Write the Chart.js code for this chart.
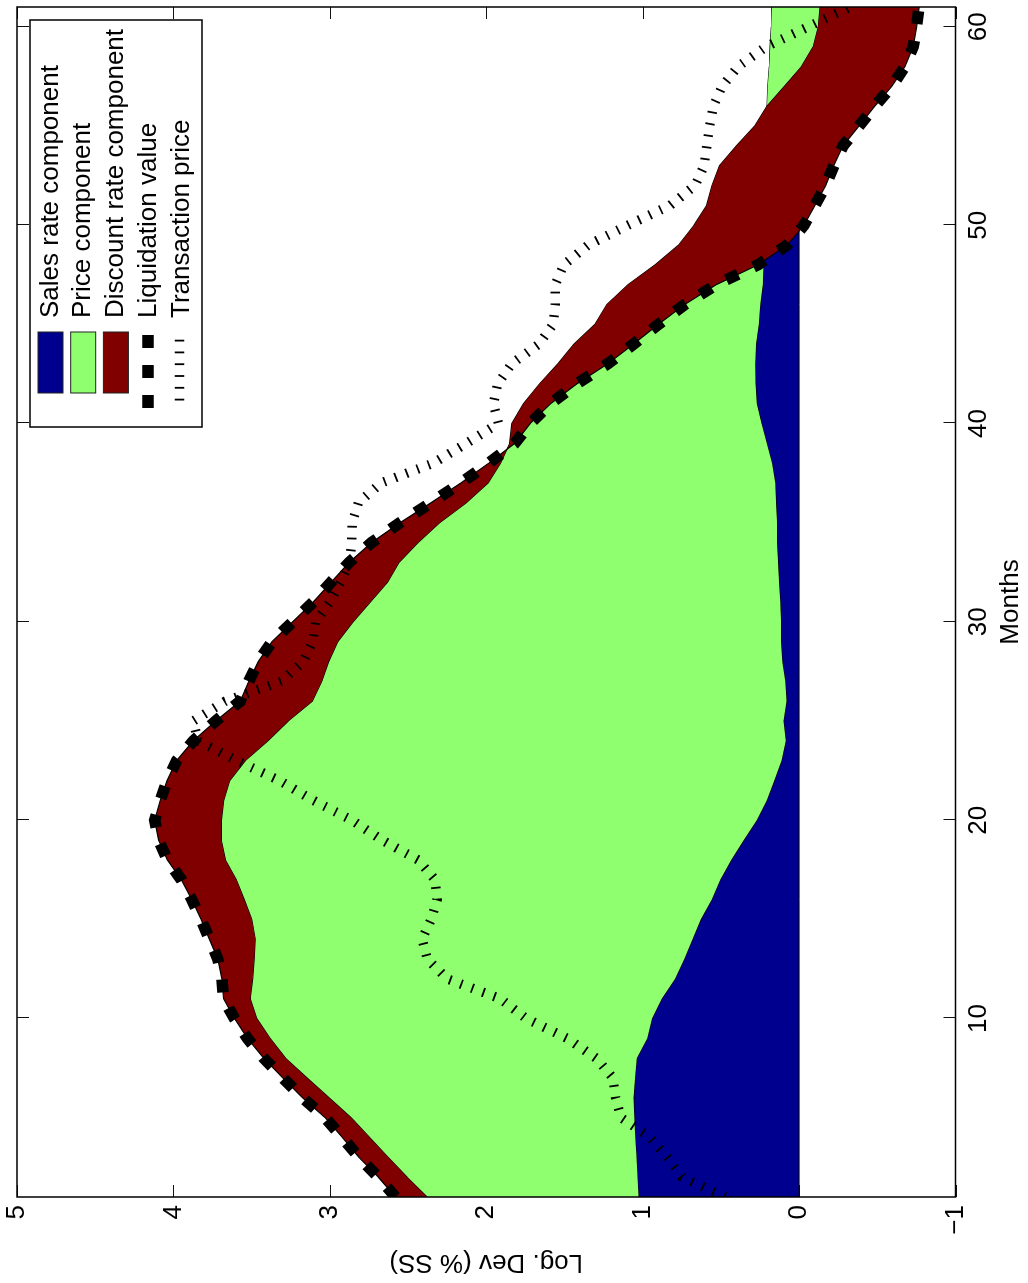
<!DOCTYPE html>
<html>
<head>
<meta charset="utf-8">
<script src="https://cdn.jsdelivr.net/npm/chart.js@4.4.1/dist/chart.umd.min.js"></script>
<style>
  html, body { margin: 0; padding: 0; background: #fff; overflow: hidden; }
  /* the figure is laid out landscape and turned a quarter turn counter-clockwise */
  #wrap {
    position: absolute; left: 0; top: 0;
    width: 1283px; height: 1028px;
    transform-origin: 0 0;
    transform: translate(0, 1283px) rotate(-90deg);
    background: #fff;
  }
</style>
</head>
<body>
<div id="wrap"><canvas id="c" width="1283" height="1028"></canvas></div>
<script>
// ---- data ----------------------------------------------------------------
const months = [1, 2, 3, 4, 5, 6, 7, 8, 9, 10, 11, 12, 13, 14, 15, 16, 17, 18, 19, 20,
  21, 22, 23, 24, 25, 26, 27, 28, 29, 30, 31, 32, 33, 34, 35, 36, 37, 38, 39, 40,
  41, 42, 43, 44, 45, 46, 47, 48, 49, 50, 51, 52, 53, 54, 55, 56, 57, 58, 59, 60, 61];
const monthTicks = [10, 20, 30, 40, 50, 60];
const valueTicks = [-1, 0, 1, 2, 3, 4, 5];

// stacked levels: sales rate component, then + price component, then + discount rate component
const salesRateLevel = [1.027, 1.033, 1.040, 1.048, 1.054, 1.058, 1.049, 1.038, 0.971, 0.941,
  0.878, 0.794, 0.734, 0.681, 0.628, 0.559, 0.504, 0.433, 0.353, 0.270,
  0.207, 0.158, 0.113, 0.085, 0.100, 0.080, 0.089, 0.108, 0.115, 0.115,
  0.121, 0.128, 0.134, 0.141, 0.141, 0.147, 0.153, 0.173, 0.207, 0.240,
  0.270, 0.278, 0.281, 0.275, 0.258, 0.249, 0.232, 0.228, 0.220, 0.215,
  0.210, 0.205, 0.200, 0.195, 0.190, 0.205, 0.200, 0.190, 0.185, 0.178, 0.175];
const priceLevel = [2.379, 2.507, 2.627, 2.746, 2.864, 3.005, 3.146, 3.284, 3.383, 3.468,
  3.509, 3.494, 3.484, 3.477, 3.499, 3.548, 3.598, 3.668, 3.694, 3.694,
  3.679, 3.640, 3.541, 3.397, 3.266, 3.112, 3.052, 3.008, 2.949, 2.852,
  2.741, 2.631, 2.558, 2.436, 2.298, 2.128, 1.989, 1.909, 1.850, 1.836,
  1.762, 1.659, 1.543, 1.439, 1.305, 1.229, 1.093, 0.920, 0.770, 0.671,
  0.591, 0.557, 0.508, 0.400, 0.284, 0.205, 0.093, -0.016, -0.091, -0.123, -0.134];
const liquidationValue = [2.580, 2.690, 2.814, 2.920, 3.030, 3.174, 3.300, 3.423, 3.527, 3.610,
  3.680, 3.690, 3.716, 3.770, 3.824, 3.883, 3.950, 4.040, 4.095, 4.120,
  4.084, 4.040, 3.980, 3.873, 3.730, 3.573, 3.518, 3.457, 3.370, 3.238,
  3.106, 2.992, 2.876, 2.733, 2.551, 2.354, 2.162, 1.984, 1.818, 1.719,
  1.589, 1.421, 1.225, 1.059, 0.899, 0.731, 0.530, 0.263, 0.076, -0.032,
  -0.102, -0.170, -0.222, -0.281, -0.383, -0.484, -0.593, -0.677, -0.730, -0.751, -0.767];
const transactionPrice = [0.473, 0.748, 0.844, 0.952, 1.138, 1.173, 1.190, 1.297, 1.483, 1.745,
  1.911, 2.250, 2.377, 2.410, 2.352, 2.314, 2.327, 2.436, 2.667, 2.859,
  3.106, 3.323, 3.595, 3.842, 3.873, 3.668, 3.310, 3.170, 3.109, 3.090,
  3.000, 2.930, 2.874, 2.860, 2.857, 2.818, 2.672, 2.339, 2.127, 1.922,
  1.954, 1.927, 1.839, 1.664, 1.572, 1.559, 1.559, 1.505, 1.348, 1.094,
  0.824, 0.665, 0.607, 0.590, 0.572, 0.548, 0.492, 0.390, 0.211, -0.058, -0.326];

// ---- styling ---------------------------------------------------------------
const FONT = '"Liberation Sans", Arial, Helvetica, sans-serif';
const FONT_SIZE = 26;
const BLUE = 'rgb(0, 0, 143)';
const GREEN = 'rgb(143, 255, 112)';
const RED = 'rgb(128, 0, 0)';

Chart.defaults.font.family = FONT;
Chart.defaults.font.size = FONT_SIZE;
Chart.defaults.color = '#000';

const pts = arr => months.map((m, i) => ({ x: m, y: arr[i] }));

// inward tick marks on all four sides (under the areas), zero baseline of the
// first area, and the axes box (over the areas)
const axesBox = {
  id: 'axesBox',
  beforeDatasetsDraw(chart) {
    const { ctx, chartArea: a, scales: { x, y } } = chart;
    ctx.save();
    ctx.strokeStyle = '#111';
    ctx.lineWidth = 1;
    ctx.beginPath();
    x.ticks.forEach(t => {
      const px = Math.round(x.getPixelForValue(t.value)) + 0.5;
      ctx.moveTo(px, a.bottom); ctx.lineTo(px, a.bottom - 12);
      ctx.moveTo(px, a.top); ctx.lineTo(px, a.top + 12);
    });
    y.ticks.forEach(t => {
      const py = Math.round(y.getPixelForValue(t.value)) + 0.5;
      ctx.moveTo(a.left, py); ctx.lineTo(a.left + 12, py);
      ctx.moveTo(a.right, py); ctx.lineTo(a.right - 12, py);
    });
    ctx.stroke();
    ctx.restore();
  },
  afterDatasetDraw(chart, args) {
    if (args.index !== 0) return;
    const { ctx, scales: { x, y } } = chart;
    const py = y.getPixelForValue(0);
    ctx.save();
    ctx.strokeStyle = '#000';
    ctx.lineWidth = 1;
    ctx.beginPath();
    ctx.moveTo(x.getPixelForValue(months[0]), py);
    ctx.lineTo(x.getPixelForValue(months[months.length - 1]), py);
    ctx.stroke();
    ctx.restore();
  },
  afterDatasetsDraw(chart) {
    const { ctx, chartArea: a } = chart;
    ctx.save();
    ctx.strokeStyle = '#000';
    ctx.lineWidth = 1.5;
    ctx.strokeRect(a.left, a.top, a.right - a.left, a.bottom - a.top);
    ctx.restore();
  }
};

// boxed legend in the upper right corner of the plot
const boxedLegend = {
  id: 'boxedLegend',
  afterDraw(chart) {
    const { ctx, chartArea: a } = chart;
    const w = 407, h = 172;
    const x0 = a.right - 13 - w, y0 = a.top + 13;
    ctx.save();
    ctx.fillStyle = '#fff';
    ctx.fillRect(x0, y0, w, h);
    ctx.strokeStyle = '#000';
    ctx.lineWidth = 1.5;
    ctx.strokeRect(x0, y0, w, h);

    ctx.font = FONT_SIZE + 'px ' + FONT;
    ctx.textBaseline = 'alphabetic';
    ctx.textAlign = 'left';
    chart.data.datasets.forEach((ds, i) => {
      const base = y0 + 27.7 + 32.7 * i;
      if (ds.fill) {
        ctx.fillStyle = ds.backgroundColor;
        ctx.fillRect(x0 + 34, base - 19.7, 61, 25);
        ctx.lineWidth = 1;
        ctx.strokeStyle = '#222';
        ctx.strokeRect(x0 + 34, base - 19.7, 61, 25);
      } else {
        const thick = ds.borderWidth > 10;
        const ly = thick ? base - 7.8 : base - 8.9;
        ctx.strokeStyle = ds.borderColor;
        ctx.lineWidth = ds.borderWidth;
        ctx.lineCap = 'butt';
        ctx.setLineDash(ds.borderDash || []);
        ctx.beginPath();
        if (thick) { ctx.moveTo(x0 + 19, ly); ctx.lineTo(x0 + 92, ly); }
        else { ctx.moveTo(x0 + 26.5, ly); ctx.lineTo(x0 + 88, ly); }
        ctx.stroke();
        ctx.setLineDash([]);
      }
      ctx.fillStyle = '#000';
      ctx.fillText(ds.label, x0 + 109, base);
    });
    ctx.restore();
  }
};

new Chart(document.getElementById('c'), {
  type: 'line',
  data: {
    datasets: [
      { label: 'Sales rate component', data: pts(salesRateLevel), fill: 'origin',
        backgroundColor: BLUE, borderColor: '#000', borderWidth: 1.2, order: 5 },
      { label: 'Price component', data: pts(priceLevel), fill: '-1',
        backgroundColor: GREEN, borderColor: '#000', borderWidth: 1.2, order: 4 },
      { label: 'Discount rate component', data: pts(liquidationValue), fill: '-1',
        backgroundColor: RED, borderColor: '#000', borderWidth: 1.2, order: 3 },
      { label: 'Liquidation value', data: pts(liquidationValue), fill: false,
        borderColor: '#000', borderWidth: 11.5, borderDash: [13, 17], borderCapStyle: 'butt',
        clip: 0, order: 2 },
      { label: 'Transaction price', data: pts(transactionPrice), fill: false,
        borderColor: '#000', borderWidth: 9.5, borderDash: [1.8, 10], borderCapStyle: 'butt',
        clip: 0, order: 1 }
    ]
  },
  options: {
    responsive: false,
    animation: false,
    events: [],
    elements: { point: { radius: 0 }, line: { tension: 0 } },
    layout: { padding: { left: 0, top: 17, right: 7, bottom: 0 } },
    plugins: { legend: { display: false }, tooltip: { enabled: false } },
    scales: {
      x: {
        type: 'linear', min: 1, max: 61, bounds: 'data', position: 'bottom',
        afterBuildTicks: s => { s.ticks = monthTicks.map(v => ({ value: v })); },
        afterFit: s => { s.height = 72.5; s.paddingLeft = 0; s.paddingRight = 0; },
        grid: { display: false, drawTicks: false },
        border: { display: false },
        ticks: { padding: 8, maxRotation: 0, autoSkip: false, color: '#000' },
        title: { display: true, text: 'Months', color: '#000', padding: { top: 0, bottom: 2 } }
      },
      y: {
        type: 'linear', min: -1, max: 5, bounds: 'data', position: 'left',
        afterBuildTicks: s => { s.ticks = valueTicks.map(v => ({ value: v })); },
        afterFit: s => { s.width = 86; s.paddingTop = 0; s.paddingBottom = 0; },
        grid: { display: false, drawTicks: false },
        border: { display: false },
        ticks: { padding: 8, color: '#000',
          callback: v => (v < 0 ? '\u2212' + Math.abs(v) : String(v)) },
        title: { display: true, text: 'Log. Dev (% SS)', color: '#000', padding: { top: 5, bottom: 0 } }
      }
    }
  },
  plugins: [axesBox, boxedLegend]
});
</script>
</body>
</html>
